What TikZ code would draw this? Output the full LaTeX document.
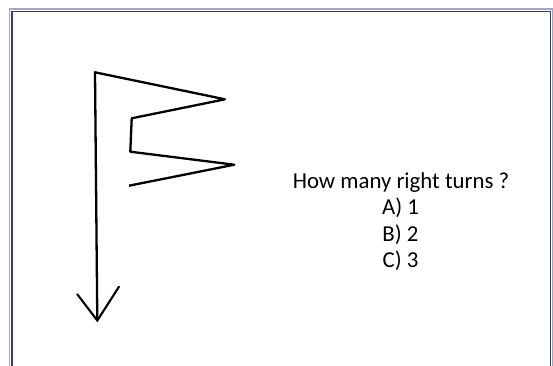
\documentclass[tikz,border=0pt]{standalone}
\usepackage{fontspec}
\setmainfont{Carlito}
\usetikzlibrary{calc}
\definecolor{frameOut}{HTML}{A4A6C4}
\definecolor{frameIn}{HTML}{3C3E58}
\tikzset{
  route/.style={line width=2.3pt, line join=round, black},
  tip/.style={line width=2.1pt, line cap=round, black},
  frame/.style={line width=1.4pt},
  ask/.style={font=\fontsize{22.8}{27}\selectfont, anchor=base, inner sep=0pt},
}

\begin{document}
\begin{tikzpicture}[x=1pt, y=-1pt]
\useasboundingbox (0,0) rectangle (553,365);

%% ── the frame, open at the bottom ────────────────────────────────────────
\draw[frame, draw=frameOut] (9.5,370) -- (9.5,9) -- (552.5,9) -- (552.5,370);
\draw[frame, draw=frameIn] (12,370) -- (12,11.5) -- (550.5,11.5) -- (550.5,370);

%% ── the route, walked from its free end ─────────────────────────────────
\coordinate (start) at (129,185.7);
\coordinate (p1) at (234.3,164.7);
\coordinate (p2) at (130.3,151.7);
\coordinate (p3) at (131.7,118.3);
\coordinate (p4) at (225,99.3);
\coordinate (p5) at (95,72.3);
\coordinate (end) at (97.3,320.5);
\coordinate (armL) at (77.3,294.3);
\coordinate (armR) at (119,286.7);

\draw[route] (start) -- (p1) -- (p2) -- (p3) -- (p4) -- (p5) -- (end);
\draw[tip] (armL) -- (end) -- (armR);

%% ── the question ─────────────────────────────────────────────────────────
\node[ask] (q) at (401,188.3) {How many right turns ?};
\node[ask] (optA) at (400.5,214.8) {A) 1};
\node[ask] (optB) at (400.5,241.3) {B) 2};
\node[ask] (optC) at (400.5,267.8) {C) 3};

\end{tikzpicture}
\end{document}
